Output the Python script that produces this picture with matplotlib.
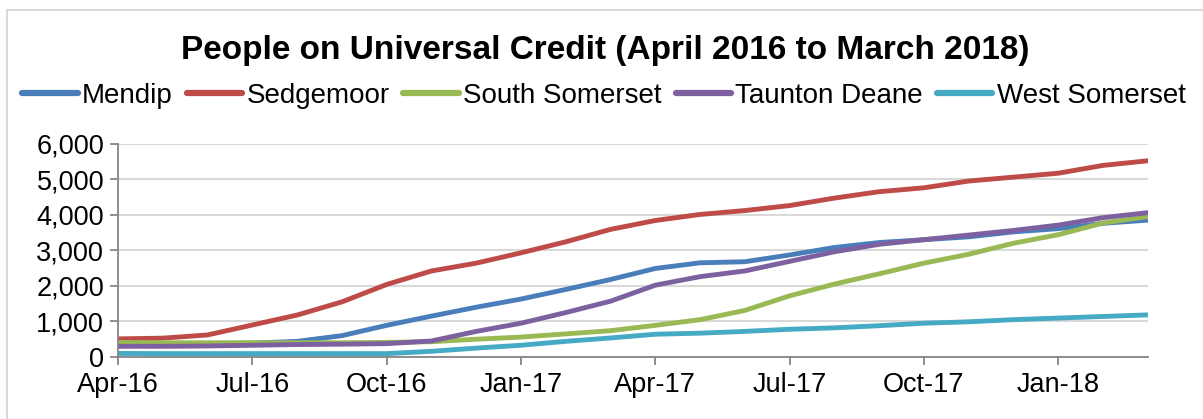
import matplotlib.pyplot as plt
import numpy as np
from matplotlib.patches import Rectangle

plt.rcParams['font.family'] = ['Liberation Sans', 'DejaVu Sans']

months = ['Apr-16', 'May-16', 'Jun-16', 'Jul-16', 'Aug-16', 'Sep-16',
          'Oct-16', 'Nov-16', 'Dec-16', 'Jan-17', 'Feb-17', 'Mar-17',
          'Apr-17', 'May-17', 'Jun-17', 'Jul-17', 'Aug-17', 'Sep-17',
          'Oct-17', 'Nov-17', 'Dec-17', 'Jan-18', 'Feb-18', 'Mar-18']

mendip = [380, 380, 380, 390, 440, 600, 890, 1150, 1400, 1630, 1900, 2180,
          2490, 2650, 2680, 2870, 3080, 3220, 3300, 3380, 3520, 3610, 3760, 3850]
sedgemoor = [510, 530, 620, 900, 1180, 1550, 2040, 2420, 2640, 2930, 3240, 3590,
             3840, 4010, 4120, 4260, 4470, 4650, 4760, 4950, 5060, 5170, 5390, 5520]
south_somerset = [410, 400, 400, 400, 400, 400, 410, 430, 500, 560, 650, 740,
                  890, 1050, 1310, 1720, 2050, 2340, 2640, 2890, 3200, 3440, 3770, 3950]
taunton_deane = [300, 300, 310, 330, 350, 360, 375, 450, 720, 950, 1250, 1570,
                 2020, 2260, 2420, 2690, 2960, 3170, 3300, 3430, 3560, 3710, 3920, 4060]
west_somerset = [100, 95, 95, 95, 95, 95, 95, 160, 250, 330, 440, 535,
                 640, 670, 720, 780, 820, 880, 950, 990, 1050, 1095, 1140, 1185]

series = [('Mendip', mendip, '#4a7ebb'),
          ('Sedgemoor', sedgemoor, '#be4b48'),
          ('South Somerset', south_somerset, '#98b954'),
          ('Taunton Deane', taunton_deane, '#7d60a0'),
          ('West Somerset', west_somerset, '#46aac5')]

fig = plt.figure(figsize=(12.03, 4.19), dpi=100)
ax = fig.add_axes([0.0981, 0.148, 0.856, 0.509])

# chart border
fig.patches.append(Rectangle((7 / 1203, -0.1), 1.2, 1 - 10 / 419 + 0.1,
                             transform=fig.transFigure, fill=False,
                             edgecolor='#d9d9d9', linewidth=1.5))

x = np.arange(len(months))
for name, vals, col in series:
    ax.plot(x, vals, color=col, linewidth=3.5, label=name,
            solid_capstyle='round', solid_joinstyle='round')

ax.set_xlim(0, len(months) - 1)
ax.set_ylim(0, 6000)
ax.set_yticks(np.arange(0, 6001, 1000))
ax.set_yticklabels(['{:,}'.format(v) for v in range(0, 6001, 1000)])
ax.set_xticks(x[::3])
ax.set_xticklabels(months[::3])
ax.grid(axis='y', color='#d9d9d9', linewidth=1.5)
ax.set_axisbelow(True)
for s in ['top', 'right']:
    ax.spines[s].set_visible(False)
for s in ['left', 'bottom']:
    ax.spines[s].set_color('#868686')
    ax.spines[s].set_linewidth(1.3)
ax.tick_params(axis='both', labelsize=19.5, color='#868686', length=6, width=1.3)
ax.tick_params(axis='x', pad=5)
ax.tick_params(axis='y', pad=4)

fig.text(0.503, 1 - 51 / 419, 'People on Universal Credit (April 2016 to March 2018)',
         ha='center', va='center', fontsize=24, fontweight='bold')

leg = fig.legend(loc='center', bbox_to_anchor=(0.502, 1 - 96 / 419), ncol=5,
                 frameon=False, fontsize=20, handlelength=2.0, handletextpad=0.15,
                 columnspacing=0.5, borderaxespad=0)
for h in leg.get_lines():
    h.set_linewidth(4.5)
    h.set_solid_capstyle('round')

fig.savefig('out.png', dpi=100)
